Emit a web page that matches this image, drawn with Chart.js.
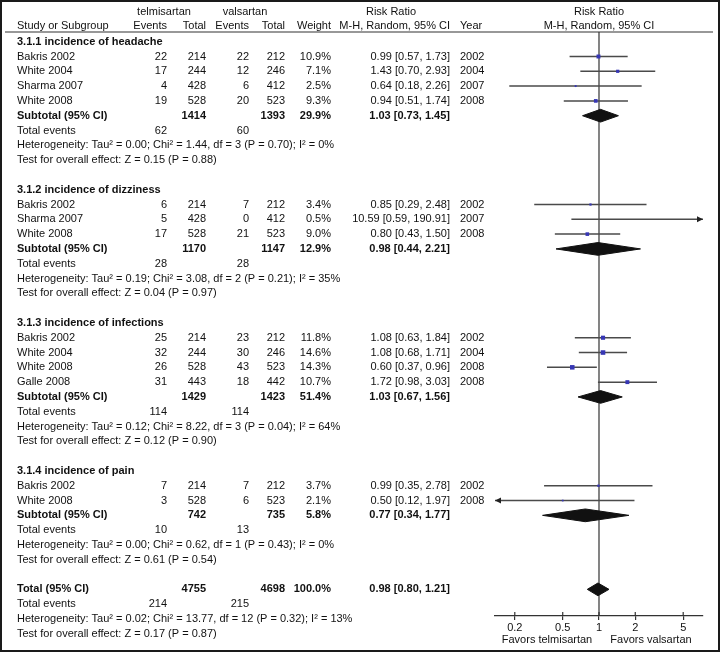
<!DOCTYPE html>
<html>
<head>
<meta charset="utf-8">
<title>Risk Ratio forest plot</title>
<script src="https://cdn.jsdelivr.net/npm/chart.js@4.4.0/dist/chart.umd.min.js"></script>
<style>
    html, body { margin: 0; padding: 0; background: #fff; }
    canvas { display: block; }
</style>
</head>
<body>
<canvas id="forest" width="720" height="652"></canvas>
<script>
// 分组标题
const groupTitles = ['3.1.1 incidence of headache', '3.1.2 incidence of dizziness', '3.1.3 incidence of infections', '3.1.4 incidence of pain'];

// 各研究数据
const studyGroup = [0, 0, 0, 0, 1, 1, 1, 2, 2, 2, 2, 3, 3];
const studyNames = ['Bakris 2002', 'White 2004', 'Sharma 2007', 'White 2008', 'Bakris 2002', 'Sharma 2007', 'White 2008', 'Bakris 2002', 'White 2004', 'White 2008', 'Galle 2008', 'Bakris 2002', 'White 2008'];
const telEvents = [22, 17, 4, 19, 6, 5, 17, 25, 32, 26, 31, 7, 3];
const telTotal = [214, 244, 428, 528, 214, 428, 528, 214, 244, 528, 443, 214, 528];
const valEvents = [22, 12, 6, 20, 7, 0, 21, 23, 30, 43, 18, 7, 6];
const valTotal = [212, 246, 412, 523, 212, 412, 523, 212, 246, 523, 442, 212, 523];
const weights = [10.9, 7.1, 2.5, 9.3, 3.4, 0.5, 9.0, 11.8, 14.6, 14.3, 10.7, 3.7, 2.1];
const rr = [0.99, 1.43, 0.64, 0.94, 0.85, 10.59, 0.80, 1.08, 1.08, 0.60, 1.72, 0.99, 0.50];
const rrLow = [0.57, 0.70, 0.18, 0.51, 0.29, 0.59, 0.43, 0.63, 0.68, 0.37, 0.98, 0.35, 0.12];
const rrHigh = [1.73, 2.93, 2.26, 1.74, 2.48, 190.91, 1.50, 1.84, 1.71, 0.96, 3.03, 2.78, 1.97];
const years = [2002, 2004, 2007, 2008, 2002, 2007, 2008, 2002, 2004, 2008, 2008, 2002, 2008];

// 小计数据
const subTelTotal = [1414, 1170, 1429, 742];
const subValTotal = [1393, 1147, 1423, 735];
const subWeight = [29.9, 12.9, 51.4, 5.8];
const subTelEvents = [62, 28, 114, 10];
const subValEvents = [60, 28, 114, 13];
const subRR = [1.03, 0.98, 1.03, 0.77];
const subLow = [0.73, 0.44, 0.67, 0.34];
const subHigh = [1.45, 2.21, 1.56, 1.77];
const hetText = [
    'Heterogeneity: Tau² = 0.00; Chi² = 1.44, df = 3 (P = 0.70); I² = 0%',
    'Heterogeneity: Tau² = 0.19; Chi² = 3.08, df = 2 (P = 0.21); I² = 35%',
    'Heterogeneity: Tau² = 0.12; Chi² = 8.22, df = 3 (P = 0.04); I² = 64%',
    'Heterogeneity: Tau² = 0.00; Chi² = 0.62, df = 1 (P = 0.43); I² = 0%'
];
const testText = [
    'Test for overall effect: Z = 0.15 (P = 0.88)',
    'Test for overall effect: Z = 0.04 (P = 0.97)',
    'Test for overall effect: Z = 0.12 (P = 0.90)',
    'Test for overall effect: Z = 0.61 (P = 0.54)'
];

// 合计
const totalTel = 4755;
const totalVal = 4698;
const totalWeight = 100.0;
const totalTelEvents = 214;
const totalValEvents = 215;
const totalRR = [0.98, 0.80, 1.21];
const totalHet = 'Heterogeneity: Tau² = 0.02; Chi² = 13.77, df = 12 (P = 0.32); I² = 13%';
const totalTest = 'Test for overall effect: Z = 0.17 (P = 0.87)';

// 坐标轴刻度
const xTicks = [0.2, 0.5, 1, 2, 5];

// 列位置
const col = { name: 17, e1: 167, n1: 206, e2: 249, n2: 285, w: 331, rr: 450, year: 460 };
const FONT = '"Liberation Sans", Arial, sans-serif';

function fmtRR(est, lo, hi) {
    return est.toFixed(2) + ' [' + lo.toFixed(2) + ', ' + hi.toFixed(2) + ']';
}

// 生成表格行
const tableRows = [];
const studyRow = [];
const subRow = [];
let r = 0;
groupTitles.forEach((title, g) => {
    tableRows.push({ row: r++, name: title, bold: true });
    studyNames.forEach((name, i) => {
        if (studyGroup[i] !== g) return;
        studyRow[i] = r;
        tableRows.push({
            row: r++, name: name,
            e1: telEvents[i], n1: telTotal[i], e2: valEvents[i], n2: valTotal[i],
            w: weights[i].toFixed(1) + '%', rr: fmtRR(rr[i], rrLow[i], rrHigh[i]), year: years[i]
        });
    });
    subRow[g] = r;
    tableRows.push({
        row: r++, name: 'Subtotal (95% CI)', bold: true,
        n1: subTelTotal[g], n2: subValTotal[g], w: subWeight[g].toFixed(1) + '%',
        rr: fmtRR(subRR[g], subLow[g], subHigh[g])
    });
    tableRows.push({ row: r++, name: 'Total events', e1: subTelEvents[g], e2: subValEvents[g] });
    tableRows.push({ row: r++, name: hetText[g] });
    tableRows.push({ row: r++, name: testText[g] });
    r++;
});
const totalRow = r;
tableRows.push({
    row: r++, name: 'Total (95% CI)', bold: true,
    n1: totalTel, n2: totalVal, w: totalWeight.toFixed(1) + '%', rr: fmtRR(totalRR[0], totalRR[1], totalRR[2])
});
tableRows.push({ row: r++, name: 'Total events', e1: totalTelEvents, e2: totalValEvents });
tableRows.push({ row: r++, name: totalHet });
tableRows.push({ row: r++, name: totalTest });

// 数据集
const DIAMOND_H = 0.43;
const datasets = [];

// 菱形（小计和合计）
function diamond(est, lo, hi, row) {
    return {
        data: [{ x: lo, y: row }, { x: est, y: row - DIAMOND_H }, { x: hi, y: row }, { x: est, y: row + DIAMOND_H }, { x: lo, y: row }],
        showLine: true, fill: 'shape', backgroundColor: '#111', borderColor: '#111', borderWidth: 1,
        pointRadius: 0, order: 0
    };
}
subRR.forEach((v, g) => datasets.push(diamond(v, subLow[g], subHigh[g], subRow[g])));
datasets.push(diamond(totalRR[0], totalRR[1], totalRR[2], totalRow));

// 方块
datasets.push({
    data: rr.map((v, i) => ({ x: v, y: studyRow[i] })),
    showLine: false,
    pointStyle: 'rect',
    pointRadius: weights.map(w => Math.max(1.2 * Math.sqrt(w), 1.6) / Math.SQRT2),
    backgroundColor: '#3636b4',
    borderWidth: 0,
    order: 1
});

// 置信区间
rr.forEach((v, i) => {
    datasets.push({
        data: [{ x: rrLow[i], y: studyRow[i] }, { x: rrHigh[i], y: studyRow[i] }],
        showLine: true, borderColor: '#4a4a4a', borderWidth: 1.5, pointRadius: 0, order: 2
    });
});

// 无效线
const Y_MIN = -0.655;
const Y_MAX = 38.8;
datasets.push({
    data: [{ x: 1, y: Y_MIN }, { x: 1, y: Y_MAX }],
    showLine: true, borderColor: '#333', borderWidth: 1.2, pointRadius: 0, order: 3
});

// 箭头
const arrowPlugin = {
    id: 'arrows',
    afterDatasetsDraw(chart) {
        const ctx = chart.ctx, xs = chart.scales.x, ys = chart.scales.y, area = chart.chartArea;
        ctx.save();
        ctx.fillStyle = '#222';
        rr.forEach((v, i) => {
            const py = ys.getPixelForValue(studyRow[i]);
            if (rrHigh[i] > xs.max) {
                ctx.beginPath();
                ctx.moveTo(area.right, py);
                ctx.lineTo(area.right - 6, py - 3);
                ctx.lineTo(area.right - 6, py + 3);
                ctx.closePath();
                ctx.fill();
            }
            if (rrLow[i] < xs.min) {
                ctx.beginPath();
                ctx.moveTo(area.left, py);
                ctx.lineTo(area.left + 6, py - 3);
                ctx.lineTo(area.left + 6, py + 3);
                ctx.closePath();
                ctx.fill();
            }
        });
        ctx.restore();
    }
};

// 表格文字
const tablePlugin = {
    id: 'table',
    afterDraw(chart) {
        const ctx = chart.ctx, xs = chart.scales.x, ys = chart.scales.y, area = chart.chartArea;
        const put = (txt, px, py, align, bold) => {
            if (txt === undefined) return;
            ctx.font = (bold ? 'bold ' : '') + '11px ' + FONT;
            ctx.textAlign = align;
            ctx.fillText(String(txt), px, py);
        };
        ctx.save();
        ctx.fillStyle = '#111';
        ctx.textBaseline = 'middle';

        // 表头
        const h1 = ys.getPixelForValue(-2.0);
        const h2 = ys.getPixelForValue(-1.06);
        const mid = xs.getPixelForValue(1);
        put('telmisartan', 164, h1, 'center');
        put('valsartan', 245, h1, 'center');
        put('Risk Ratio', 391, h1, 'center');
        put('Risk Ratio', mid, h1, 'center');
        put('Study or Subgroup', col.name, h2, 'left');
        put('Events', col.e1, h2, 'right');
        put('Total', col.n1, h2, 'right');
        put('Events', col.e2, h2, 'right');
        put('Total', col.n2, h2, 'right');
        put('Weight', col.w, h2, 'right');
        put('M-H, Random, 95% CI', col.rr, h2, 'right');
        put('Year', col.year, h2, 'left');
        put('M-H, Random, 95% CI', mid, h2, 'center');

        // 表头下划线
        ctx.strokeStyle = '#333';
        ctx.lineWidth = 1.2;
        ctx.beginPath();
        ctx.moveTo(5, area.top);
        ctx.lineTo(713, area.top);
        ctx.stroke();

        tableRows.forEach(row => {
            const py = ys.getPixelForValue(row.row);
            put(row.name, col.name, py, 'left', row.bold);
            put(row.e1, col.e1, py, 'right', row.bold);
            put(row.n1, col.n1, py, 'right', row.bold);
            put(row.e2, col.e2, py, 'right', row.bold);
            put(row.n2, col.n2, py, 'right', row.bold);
            put(row.w, col.w, py, 'right', row.bold);
            put(row.rr, col.rr, py, 'right', row.bold);
            put(row.year, col.year, py, 'left', row.bold);
        });

        // 刻度线向上部分
        ctx.strokeStyle = '#333';
        ctx.lineWidth = 1.2;
        xTicks.forEach(t => {
            const px = xs.getPixelForValue(t);
            ctx.beginPath();
            ctx.moveTo(px, area.bottom - 4);
            ctx.lineTo(px, area.bottom);
            ctx.stroke();
        });

        // 坐标轴说明
        const fy = ys.getPixelForValue(40.4);
        put('Favors telmisartan', 547, fy, 'center');
        put('Favors valsartan', 651, fy, 'center');

        // 外边框
        ctx.strokeStyle = '#1a1a1a';
        ctx.lineWidth = 2;
        ctx.strokeRect(1, 1, 718, 650);
        ctx.restore();
    }
};

new Chart(document.getElementById('forest'), {
    type: 'scatter',
    data: { datasets: datasets },
    options: {
        responsive: false,
        animation: false,
        devicePixelRatio: 1,
        layout: { padding: { left: 495, right: 17, top: 32, bottom: 16 } },
        plugins: {
            legend: { display: false },
            tooltip: { enabled: false }
        },
        scales: {
            x: {
                type: 'logarithmic',
                min: 0.137,
                max: 7.3,
                afterBuildTicks: scale => { scale.ticks = xTicks.map(v => ({ value: v })); },
                afterFit: scale => { scale.height = 20; },
                ticks: {
                    color: '#111',
                    padding: 1,
                    font: { size: 11, family: FONT },
                    maxRotation: 0,
                    autoSkip: false,
                    callback: v => String(v)
                },
                grid: { drawOnChartArea: false, drawTicks: true, tickLength: 4, color: '#333', lineWidth: 1.2 },
                border: { display: true, color: '#333', width: 1.3 }
            },
            y: {
                type: 'linear',
                display: false,
                reverse: true,
                min: Y_MIN,
                max: Y_MAX
            }
        }
    },
    plugins: [arrowPlugin, tablePlugin]
});
</script>
</body>
</html>
